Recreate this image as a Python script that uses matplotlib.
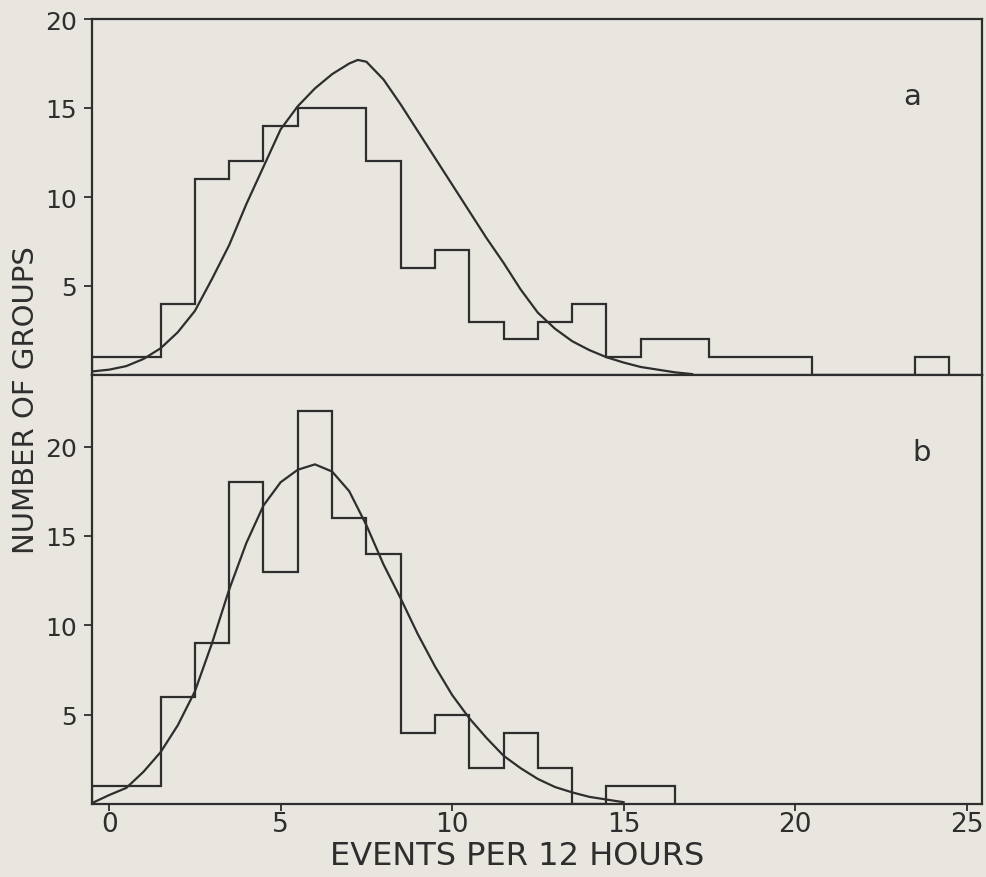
import matplotlib.pyplot as plt
import numpy as np

# histogram counts, one bin per integer number of events (bins centred on 0, 1, 2, ...)
counts_a = [1, 1, 4, 11, 12, 14, 15, 15, 12, 6, 7, 3, 2, 3, 4, 1, 2, 2, 1, 1, 1, 0, 0, 0, 1]
counts_b = [1, 1, 6, 9, 18, 13, 22, 16, 14, 4, 5, 2, 4, 2, 0, 1, 1]

# fitted curves
curve_a_x = [-0.5, 0, 0.5, 1, 1.5, 2, 2.5, 3, 3.5, 4, 4.5, 5, 5.5, 6, 6.5, 7, 7.25, 7.5, 8,
             8.5, 9, 9.5, 10, 10.5, 11, 11.5, 12, 12.5, 13, 13.5, 14, 14.5, 15, 15.5, 16,
             16.5, 17]
curve_a_y = [0.2, 0.3, 0.5, 0.9, 1.5, 2.4, 3.6, 5.4, 7.3, 9.6, 11.7, 13.8, 15.1, 16.1, 16.9,
             17.5, 17.7, 17.6, 16.6, 15.2, 13.7, 12.2, 10.7, 9.2, 7.7, 6.3, 4.8, 3.5, 2.6,
             1.9, 1.4, 1.0, 0.7, 0.45, 0.3, 0.15, 0.05]

curve_b_x = [-0.5, 0, 0.5, 1, 1.5, 2, 2.5, 3, 3.5, 4, 4.5, 5, 5.5, 6, 6.5, 7, 7.5, 8,
             8.5, 9, 9.5, 10, 10.5, 11, 11.5, 12, 12.5, 13, 13.5, 14, 14.5, 15]
curve_b_y = [0.05, 0.5, 0.9, 1.8, 2.9, 4.4, 6.3, 9.0, 12.0, 14.6, 16.7, 18.0, 18.7, 19.0,
             18.6, 17.5, 15.6, 13.4, 11.5, 9.5, 7.7, 6.1, 4.8, 3.7, 2.7, 2.0, 1.4, 0.95,
             0.65, 0.4, 0.25, 0.1]

x_ticks = [0, 5, 10, 15, 20, 25]
y_ticks = [5, 10, 15, 20]

paper = "#e8e6de"
ink = "#2e2e2e"
W, H = 986, 878

fig = plt.figure(figsize=(W / 100, H / 100), dpi=100, facecolor=paper)
ax_a = fig.add_axes([92 / W, 1 - 376 / H, 890 / W, 356 / H], facecolor=paper)
ax_b = fig.add_axes([92 / W, 1 - 805 / H, 890 / W, 429 / H], facecolor=paper)


def style(ax, ymax):
    ax.set_xlim(-0.5, 25.45)
    ax.set_ylim(0, ymax)
    for s in ax.spines.values():
        s.set_linewidth(1.6)
        s.set_color(ink)
    ax.set_yticks(y_ticks)
    ax.tick_params(axis="y", direction="out", length=6, width=1.3, color=ink,
                   labelsize=18, labelcolor=ink, pad=5)


style(ax_a, 20)
style(ax_b, 24)

edges_a = np.arange(len(counts_a) + 1) - 0.5
edges_b = np.arange(len(counts_b) + 1) - 0.5
ax_a.stairs(counts_a, edges_a, color=ink, linewidth=1.6)
ax_b.stairs(counts_b, edges_b, color=ink, linewidth=1.6)
ax_a.plot(curve_a_x, curve_a_y, color=ink, linewidth=1.6)
ax_b.plot(curve_b_x, curve_b_y, color=ink, linewidth=1.6)

# ticks on the shared middle line point down into panel b
ax_a.set_xticks(x_ticks[1:])
ax_a.tick_params(axis="x", direction="out", length=7, width=1.3, color=ink, labelbottom=False)
ax_b.set_xticks(x_ticks)
ax_b.tick_params(axis="x", direction="out", length=5, width=1.3, color=ink,
                 labelsize=19, labelcolor=ink, pad=0)

ax_a.text(23.4, 15.7, "a", fontsize=21, color=ink, ha="center", va="center")
ax_b.text(23.7, 19.7, "b", fontsize=21, color=ink, ha="center", va="center")

fig.text(26 / W, 1 - 400 / H, "NUMBER OF GROUPS", rotation=90, ha="center", va="center",
         fontsize=21, color=ink)
fig.text(517 / W, 1 - 857 / H, "EVENTS PER 12 HOURS", ha="center", va="center",
         fontsize=23, color=ink, family=["Liberation Sans Narrow", "DejaVu Sans"])

fig.savefig("out.png", dpi=100, facecolor=paper)
